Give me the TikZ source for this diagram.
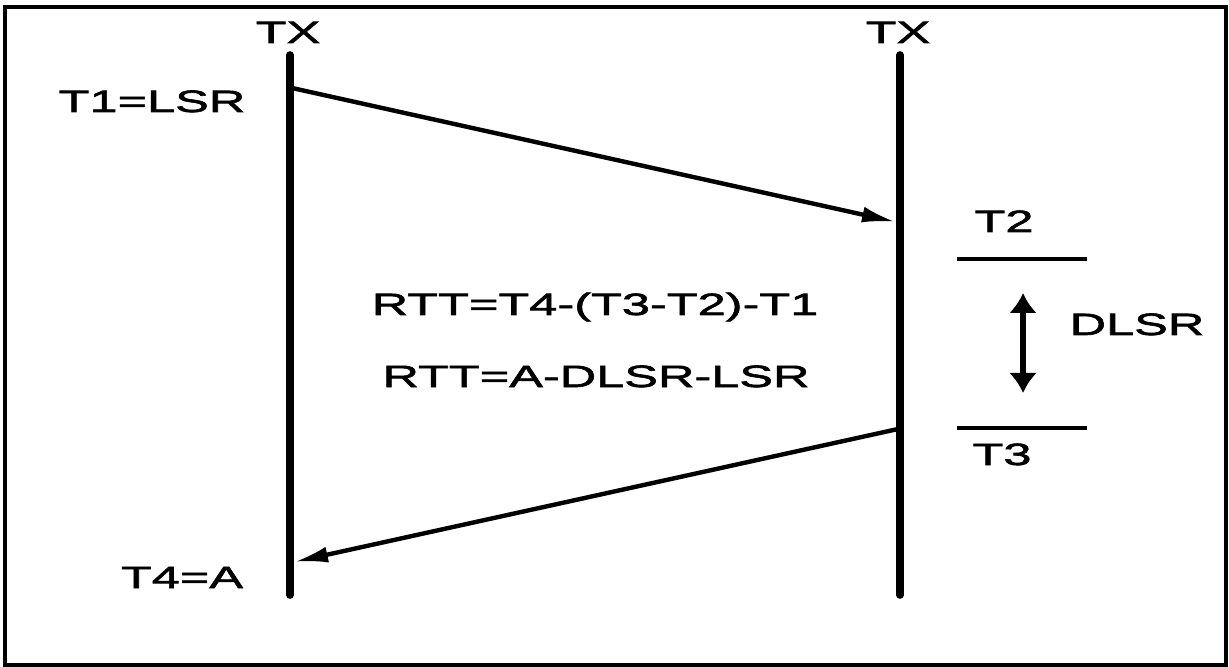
\documentclass[tikz,border=0pt]{standalone}
\usepackage{fontspec}
\newfontfamily\lblfont[FakeStretch=1.64,FakeBold=2]{Liberation Sans}
\usetikzlibrary{arrows.meta}

\begin{document}
\begin{tikzpicture}[
  x=0.5pt, y=-0.5pt,
  lbl/.style={font=\lblfont\fontsize{15.4}{18}\selectfont, inner sep=0pt, anchor=base},
  life/.style={line width=3.8pt, line cap=round},
  msg/.style={line width=2.2pt, -{Latex[length=17pt,width=8pt]}},
  tickline/.style={line width=2pt},
  dlsrarr/.style={line width=3pt, {Latex[length=10pt,width=14pt]}-{Latex[length=10pt,width=14pt]}}]
  \useasboundingbox (0,0) rectangle (1229,667);
  \draw[line width=1.6pt] (5,7) rectangle (1226,665);
  % labels
  \node[lbl] (txl)  at (288,43)  {TX};
  \node[lbl] (txr)  at (898,43)  {TX};
  \node[lbl] (t1)   at (152,112) {T1=LSR};
  \node[lbl] (t4)   at (182,588) {T4=A};
  \node[lbl] (t2)   at (1004,232) {T2};
  \node[lbl] (t3)   at (1002,465) {T3};
  \node[lbl] (dlsr) at (1137,335) {DLSR};
  \node[lbl] (rtt1) at (595,315) {RTT=T4-(T3-T2)-T1};
  \node[lbl] (rtt2) at (596,387) {RTT=A-DLSR-LSR};
  % time lines
  \coordinate (ltop) at (290,55);
  \coordinate (lbot) at (290,595);
  \coordinate (rtop) at (900,55);
  \coordinate (rbot) at (900,595);
  \draw[life] (ltop) -- (lbot);
  \draw[life] (rtop) -- (rbot);
  % messages
  \coordinate (send1) at (292,88);
  \coordinate (recv1) at (896,222);
  \coordinate (send2) at (898,429);
  \coordinate (recv2) at (294,562);
  \draw[msg] (send1) -- (recv1);
  \draw[msg] (send2) -- (recv2);
  % T2 / T3 marks and DLSR
  \coordinate (t2a) at (957,259);
  \coordinate (t2b) at (1087,259);
  \coordinate (t3a) at (957,428);
  \coordinate (t3b) at (1087,428);
  \draw[tickline] (t2a) -- (t2b);
  \draw[tickline] (t3a) -- (t3b);
  \coordinate (dtop) at (1023,293);
  \coordinate (dbot) at (1023,393);
  \draw[dlsrarr] (dtop) -- (dbot);
\end{tikzpicture}
\end{document}
